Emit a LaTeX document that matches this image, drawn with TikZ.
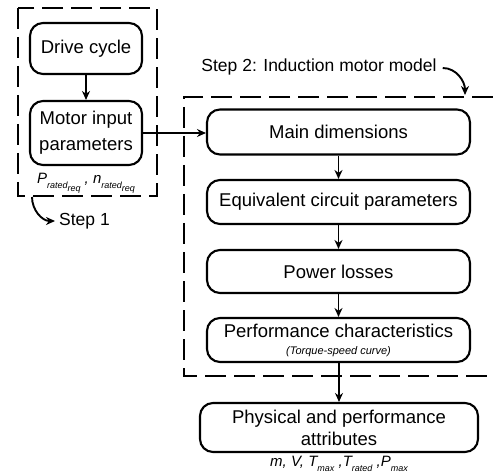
\documentclass[tikz,border=0pt]{standalone}
\usepackage{fontspec}
\setmainfont{Liberation Sans}
\usetikzlibrary{arrows.meta}
\newcommand{\lowsub}[1]{\raisebox{-0.6ex}{\fontsize{9}{9}\selectfont #1}}
\begin{document}
\begin{tikzpicture}[x=1pt,y=-1pt,
  box/.style={draw, line width=2.1pt, rounded corners=13pt, align=center,
    font=\fontsize{18.5}{24}\selectfont, inner sep=0pt},
  dbox/.style={line width=2.3pt, dash pattern=on 21pt off 8pt},
  conn/.style={line width=1.9pt, -{Stealth[length=9pt,width=8pt]}},
  lbl/.style={font=\fontsize{17.5}{20}\selectfont, inner sep=0pt},
  attr/.style={font=\fontsize{15}{17}\selectfont\itshape, inner sep=0pt},
]
\useasboundingbox (0,0) rectangle (493,476);

% Step 1 frame
\draw[dbox] (18,8) rectangle (157,196);
% Step 2 frame
\draw[dbox] (493,97) -- (184,97) -- (184,376) -- (493,376);

% boxes
\node[box, minimum width=112pt, minimum height=51pt] (drive) at (86,48.5) {Drive cycle};
\node[box, minimum width=112pt, minimum height=64pt] (motor) at (86,133) {Motor input\\[2pt]parameters};
\node[attr] (req) at (86,183) {P\lowsub{rated\lowsub{req}} , n\lowsub{rated\lowsub{req}}};

\node[box, minimum width=263pt, minimum height=45pt] (main) at (338.5,132) {Main dimensions};
\node[box, minimum width=263pt, minimum height=44pt] (eq) at (338.5,202) {Equivalent circuit parameters};
\node[box, minimum width=263pt, minimum height=43pt] (pl) at (338.5,271.5) {Power losses};
\node[box, minimum width=263pt, minimum height=44pt] (perf) at (338.5,340)
  {Performance characteristics\\[-7pt]{\fontsize{11}{13}\selectfont\itshape (Torque-speed curve)}};
\node[box, minimum width=278pt, minimum height=49pt] (phys) at (339,427.5)
  {Physical and performance\\[-2pt]attributes};
\node[attr] (out) at (339,464) {m, V, T\lowsub{max} ,T\lowsub{rated} ,P\lowsub{max}};

% step labels
\node[lbl, anchor=west] (s1) at (59,221) {Step 1};
\coordinate (s1start) at (32,197);
\node[lbl] (s2) at (319,67) {Step 2: Induction motor model};
\coordinate (s2end) at (465,95);

% connectors
\draw[conn] (drive) -- (motor);
\draw[conn] (motor.east) -- (motor.east -| main.west);
\draw[conn] (main) -- (eq);
\draw[conn] (eq) -- (pl);
\draw[conn] (pl) -- (perf);
\draw[conn] (perf.south -| phys.north) -- (phys);
\draw[conn] (s1start) to[out=-90, in=180] ([xshift=-4pt]s1.west);
\draw[conn] ([xshift=6pt,yshift=-1pt]s2.east) to[out=0, in=90] (s2end);
\end{tikzpicture}
\end{document}
